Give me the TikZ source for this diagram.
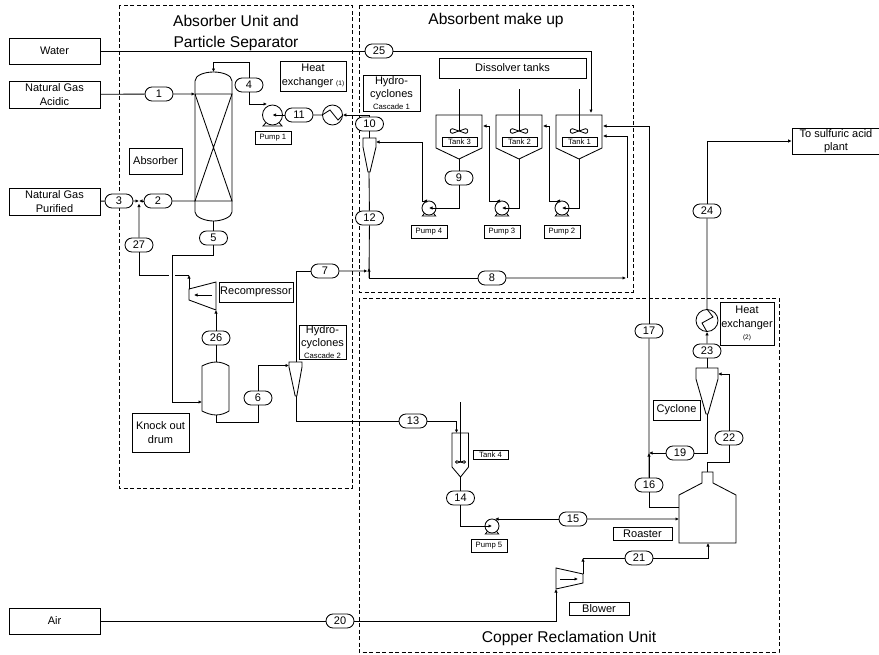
\documentclass[tikz,border=0pt]{standalone}
\usepackage{fontspec}
\setmainfont{Liberation Sans}
\usetikzlibrary{arrows.meta,shapes.misc}
\newcommand{\fsz}[2]{\fontsize{#1}{#2}\selectfont}
\tikzset{
  line/.style={draw=black,line width=0.85pt},
  flow/.style={line,-{Latex[length=3.5pt,width=3.5pt]}},
  flowboth/.style={line,{Latex[length=3.5pt,width=3.5pt,reversed]}-{Latex[length=3.5pt,width=3.5pt]}},
  pill/.style={draw=black,line width=0.85pt,fill=white,rounded rectangle,minimum width=28pt,minimum height=14pt,inner sep=0pt,font=\fsz{11}{13}},
  lbl/.style={draw=black,line width=0.8pt,fill=white,inner sep=0pt,align=center,font=\fsz{11}{13.5}},
  small/.style={lbl,font=\fsz{7.7}{9}},
  unit/.style={draw=black,line width=0.75pt,dash pattern=on 4pt off 2.5pt},
  title/.style={inner sep=0pt,align=center,font=\fsz{15.6}{21}},
  round/.style={draw=black,line width=0.85pt,fill=white,circle,inner sep=0pt}
}
% pump: name, x, y, radius
\newcommand{\pumpsym}[4]{%
  \draw[line] ({#2-0.6*#4},{#3+0.7*#4}) -- ({#2-0.95*#4},{#3+#4+1}) -- ({#2+0.95*#4},{#3+#4+1}) -- ({#2+0.6*#4},{#3+0.7*#4});
  \node[round,minimum size={2*#4 pt}] (#1) at (#2,#3) {};
}
% agitator: x, shaft top, impeller y, half width, half height
\newcommand{\agit}[5]{%
  \draw[line] (#1,#2) -- (#1,#3);
  \draw[line,fill=white] (#1,#3) -- ({#1-0.7*#4},{#3-#5}) .. controls ({#1-#4},{#3-#5}) and ({#1-#4},{#3+#5}) .. ({#1-0.7*#4},{#3+#5}) -- (#1,#3)
     -- ({#1+0.7*#4},{#3-#5}) .. controls ({#1+#4},{#3-#5}) and ({#1+#4},{#3+#5}) .. ({#1+0.7*#4},{#3+#5}) -- cycle;
}
% dissolver tank: centre x
\newcommand{\vessel}[1]{%
  \draw[line] ({#1-23},115) -- ({#1-23},148) -- (#1,159) -- ({#1+23},148) -- ({#1+23},115) -- cycle;
  \agit{#1}{89}{131}{9.5}{2.3}
}
\begin{document}
\begin{tikzpicture}[x=1pt,y=-1pt]
\useasboundingbox (0,0) rectangle (879,654);
% unit frames
\draw[unit] (119,5) rectangle (352,488);
\draw[unit] (359,5) rectangle (633,292);
\draw[unit] (359,298) rectangle (779,652);
\node[title] (t1) at (236,33) {Absorber Unit and\\Particle Separator};
\node[title] (t2) at (496,20) {Absorbent make up};
\node[title] (t3) at (569,638) {Copper Reclamation Unit};
% terminals
\node[lbl,minimum width=91pt,minimum height=26pt] (water) at (54.5,51) {Water};
\node[lbl,minimum width=91pt,minimum height=27pt] (acid) at (54.5,94.5) {Natural Gas\\Acidic};
\node[lbl,minimum width=91pt,minimum height=27pt] (pure) at (54.5,201.5) {Natural Gas\\Purified};
\node[lbl,minimum width=91pt,minimum height=26pt] (air) at (54.5,621) {Air};
\node[lbl,minimum width=88pt,minimum height=26pt] (acidplant) at (836,141) {To sulfuric acid\\plant};
% captions
\node[lbl,minimum width=66pt,minimum height=30pt] (c1) at (313,76) {Heat\\exchanger {\fsz{6.5}{8}(1)}};
\node[lbl,minimum width=53pt,minimum height=26pt] (c2) at (155.5,161) {Absorber};
\node[lbl,minimum width=147pt,minimum height=20pt] (c3) at (512.5,68) {Dissolver tanks};
\node[lbl,minimum width=57pt,minimum height=36pt] (c4) at (391.5,93) {Hydro-\\cyclones\\[-2pt]{\fsz{7.7}{8}Cascade 1}};
\node[lbl,minimum width=74pt,minimum height=20pt] (c5) at (256,292) {Recompressor};
\node[lbl,minimum width=47pt,minimum height=34pt] (c6) at (322.5,342) {Hydro-\\cyclones\\[-2pt]{\fsz{7.7}{8}Cascade 2}};
\node[lbl,minimum width=57pt,minimum height=39pt] (c7) at (160.5,432.5) {Knock out\\drum};
\node[lbl,minimum width=59pt,minimum height=13pt] (c8) at (642.5,533.5) {Roaster};
\node[lbl,minimum width=60pt,minimum height=13pt] (c9) at (599,608.5) {Blower};
\node[lbl,minimum width=47pt,minimum height=20pt] (c10) at (676.5,410) {Cyclone};
\node[lbl,minimum width=54pt,minimum height=43pt] (c11) at (747,323.5) {Heat\\exchanger\\[-1pt]{\fsz{6.5}{8}(2)}};
\node[small,minimum width=36pt,minimum height=12.5pt] (l1) at (273,138) {Pump 1};
\node[small,minimum width=36pt,minimum height=13pt] (l2) at (429,231.5) {Pump 4};
\node[small,minimum width=36pt,minimum height=13pt] (l3) at (502,231.5) {Pump 3};
\node[small,minimum width=36pt,minimum height=13pt] (l4) at (562,231.5) {Pump 2};
\node[small,minimum width=36pt,minimum height=12.5pt] (l5) at (489,546) {Pump 5};
\node[small,minimum width=35pt,minimum height=9pt] (l9) at (490.5,454.5) {Tank 4};
% absorber column
\draw[line] (195,81) .. controls (195,75) and (205,72) .. (213.5,72) .. controls (222,72) and (232,75) .. (232,81)
  -- (232,212) .. controls (232,217) and (222,221) .. (213.5,221) .. controls (205,221) and (195,217) .. (195,212) -- cycle;
\draw[line] (195,94) -- (232,94) -- (195,201) -- (232,201) -- (195,94);
\coordinate (coltop) at (213.5,72);
\coordinate (colbot) at (213.5,221);
\coordinate (colin) at (195,94);
\coordinate (colgas) at (195,201);
% knock-out drum
\draw[line] (202,366) .. controls (206,364) and (211,362) .. (216,362) .. controls (221,362) and (226,364) .. (229,366)
  -- (229,411) .. controls (226,413) and (221,415) .. (216,415) .. controls (211,415) and (206,413) .. (202,411) -- cycle;
\coordinate (drumtop) at (216,362);
\coordinate (drumbot) at (216,415);
\coordinate (drumin) at (202,402);
% recompressor
\draw[line] (189,289) -- (216,282) -- (216,310) -- (189,300) -- cycle;
\draw[flow] (212,295) -- (194,295);
\coordinate (compout) at (189,289);
\coordinate (compin) at (216,310);
% blower
\draw[line] (556,568) -- (583,574) -- (583,583) -- (556,589) -- cycle;
\draw[flow] (560,579) -- (578,579);
\coordinate (blowin) at (556,589);
\coordinate (blowout) at (583,574);
% hydrocyclones
\draw[line] (363,138) -- (376,138) -- (376,147) -- (370,172) -- (368,172) -- (363,147) -- cycle;
\coordinate (cy1top) at (369.5,138);
\coordinate (cy1bot) at (369,172);
\coordinate (cy1in) at (376,142);
\draw[line] (289,362) -- (302,362) -- (302,367) -- (296.8,396) -- (295.2,396) -- (289,367) -- cycle;
\coordinate (cy2top) at (296,362);
\coordinate (cy2bot) at (296,396);
\coordinate (cy2in) at (289,365.5);
\draw[line] (696,368) -- (718,368) -- (718,379) -- (708,414) -- (706,414) -- (696,379) -- cycle;
\coordinate (cy3top) at (707,368);
\coordinate (cy3bot) at (707,414);
\coordinate (cy3in) at (718,374);
% dissolver tanks
\vessel{459}
\vessel{519}
\vessel{579}
\node[small,minimum width=35pt,minimum height=9pt] (l6) at (459.5,141.5) {Tank 3};
\node[small,minimum width=35pt,minimum height=9pt] (l7) at (519.5,141.5) {Tank 2};
\node[small,minimum width=35pt,minimum height=9pt] (l8) at (579.5,141.5) {Tank 1};
% tank 4
\draw[line] (452,433) -- (468.5,433) -- (468.5,467) -- (460.5,477) -- (452,467) -- cycle;
\agit{460.5}{402}{462}{5.5}{1.2}
\coordinate (t4in) at (456.5,433);
\coordinate (t4bot) at (460.5,477);
% roaster
\draw[line] (679,495) -- (702,483) -- (702,472) -- (713,472) -- (713,483) -- (736,495) -- (736,543) -- (679,543) -- cycle;
\coordinate (roasttop) at (707.5,472);
\coordinate (roastleft) at (679,507);
\coordinate (roastin) at (679,519);
\coordinate (roastbot) at (708,543);
% pumps and heat exchangers
\pumpsym{pump1}{272.5}{115}{10}
\pumpsym{pump4}{429}{208}{7}
\pumpsym{pump3}{502}{208}{7}
\pumpsym{pump2}{562}{208}{7}
\pumpsym{pump5}{492}{526}{7}
\node[round,minimum size=20pt] (hx1) at (332.5,115) {};
\draw[line] (hx1.west) -- (330,110) -- (338,120) -- (hx1.east);
\node[round,minimum size=22pt] (hx2) at (707,320.5) {};
\draw[line] (hx2.north) -- (713,317) -- (702,323) -- (hx2.south);
% stream tags
\node[pill] (p1) at (159,94) {1};
\node[pill] (p2) at (158,201) {2};
\node[pill] (p3) at (119,201) {3};
\node[pill] (p4) at (249,85) {4};
\node[pill] (p5) at (213.5,238) {5};
\node[pill] (p6) at (258,398) {6};
\node[pill] (p7) at (325,271) {7};
\node[pill] (p8) at (492,278) {8};
\node[pill] (p9) at (459,178) {9};
\node[pill] (p10) at (369.5,124) {10};
\node[pill] (p11) at (299,115) {11};
\node[pill] (p12) at (369.5,218) {12};
\node[pill] (p13) at (413,421) {13};
\node[pill] (p14) at (460.5,498) {14};
\node[pill] (p15) at (573,519) {15};
\node[pill] (p16) at (649,485) {16};
\node[pill] (p17) at (649,331) {17};
\node[pill] (p19) at (680,453) {19};
\node[pill] (p20) at (340,621) {20};
\node[pill] (p21) at (639,558) {21};
\node[pill] (p22) at (729,438) {22};
\node[pill] (p23) at (707,351) {23};
\node[pill] (p24) at (707,211) {24};
\node[pill] (p25) at (379,51) {25};
\node[pill] (p26) at (216,338) {26};
\node[pill] (p27) at (139,245) {27};
% junctions and bends
\coordinate (t1top) at (591,113);
\coordinate (t1r1) at (603,126);
\coordinate (t1r2) at (603,136);
\coordinate (t2r) at (543,126);
\coordinate (t3r) at (483,126);
\coordinate (j23) at (139,201);
\coordinate (j8) at (369,278);
\coordinate (j16) at (649,453);
\coordinate (pump1in) at (267,104);
\coordinate (pump2out) at (560,201);
\coordinate (pump3out) at (500,201);
\coordinate (pump4out) at (427,201);
\coordinate (pump5out) at (495,519);
% connectors
\draw[line] (acid) -- (p1);
\draw[flow] (p1) -- (colin);
\draw[line] (water) -- (p25);
\draw[flow] (p25) -| (t1top);
\draw[line] (pure) -- (p3);
\draw[flow] (p3) -- (j23);
\draw[flow] (p2) -- (j23);
\draw[line] (colgas) -- (p2);
\draw[flow] (p27) -- (139,203.5);
\draw[flow] (p4) |- (213.5,62) -- (coltop);
\draw[flow] (p4) |- (pump1in);
\draw[flow] (p11) -- (pump1.center);
\draw[line] (hx1) -- (p11);
\draw[flow] (p10) |- (hx1.east);
\draw[line] (cy1top) -- (p10);
\draw[line] (cy1bot) -- (p12);
\draw[line] (p12) -- (j8);
\draw[flow] (j8) -- (369,268);
\draw[flow] (p7) -- (367.5,271);
\draw[line] (j8) -- (p8);
\draw[flow] (p8) -- (626,278);
\draw[flow] (627,278) -- (627,136) -- (t1r2);
\draw[line] (cy2top) -- (296,271) -- (p7);
\draw[line] (colbot) -- (p5);
\draw[flow] (p5) |- (172,255) -- (172,402) -- (drumin);
\draw[line] (p27) |- (169,275);
\draw[line] (175,275) -- (189,275);
\draw[flow] (compout) -- (189,275);
\draw[flow] (p26) -- (compin);
\draw[line] (drumtop) -- (p26);
\draw[line] (drumbot) -- (216,422) -| (p6);
\draw[flow] (p6) |- (cy2in);
\draw[line] (cy2bot) -- (296,421) -- (p13);
\draw[flow] (p13) -| (t4in);
\draw[line] (t4bot) -- (p14);
\draw[flow] (p14) |- (pump5.center);
\draw[flow] (p15) -- (roastin);
\draw[flow] (p15) -- (pump5out);
\draw[line] (roastleft) -| (p16);
\draw[flow] (p16) -- (j16);
\draw[line] (p16) -- (p17);
\draw[flow] (p17) |- (t1r1);
\draw[flow] (p19) -- (j16);
\draw[line] (cy3bot) |- (p19);
\draw[line] (roasttop) |- (729,462) -- (p22);
\draw[flow] (p22) |- (cy3in);
\draw[line] (cy3top) -- (p23);
\draw[flow] (p23) -- (hx2.south);
\draw[line] (hx2.north) -- (p24);
\draw[flow] (p24) |- (acidplant.west);
\draw[line] (air) -- (p20);
\draw[flow] (p20) -| (blowin);
\draw[flow] (blowout) -- (583,558);
\draw[line] (583,558) -- (p21);
\draw[flow] (p21) -| (roastbot);
% tank loop
\draw[line] (459,159) -- (p9);
\draw[flow] (p9) |- (pump4.center);
\draw[flowboth] (pump4out) -| (422,142) -- (cy1in);
\draw[flow] (519,159) |- (pump3.center);
\draw[flowboth] (pump3out) -| (489,126) -- (t3r);
\draw[flow] (579,159) |- (pump2.center);
\draw[flowboth] (pump2out) -| (549,126) -- (t2r);
\end{tikzpicture}
\end{document}
